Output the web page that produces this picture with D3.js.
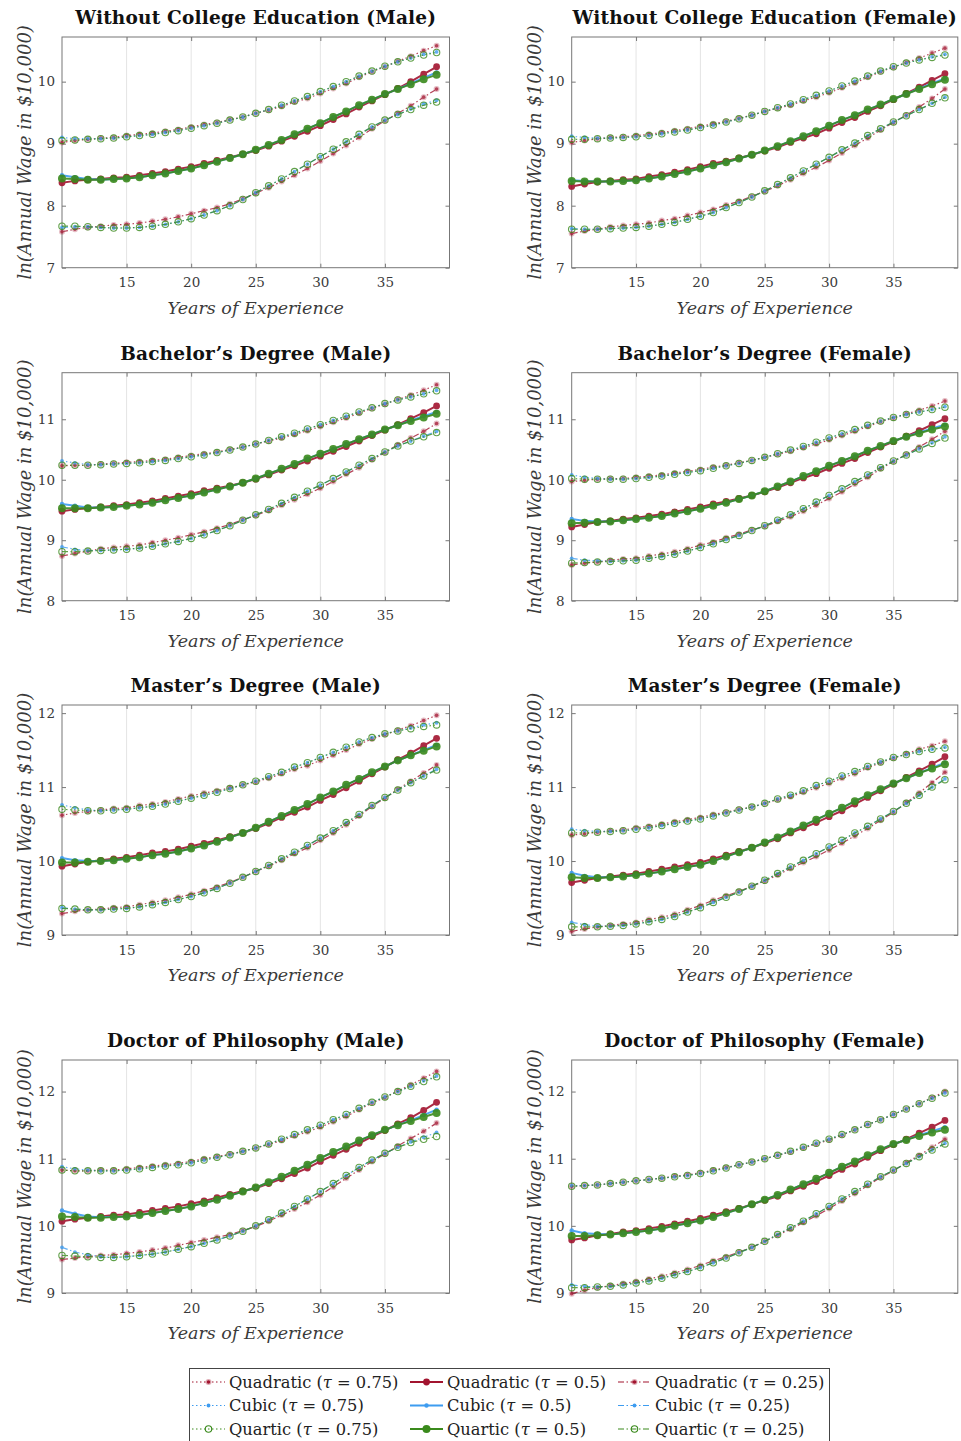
<!DOCTYPE html>
<html>
<head>
<meta charset="utf-8">
<script src="https://cdn.jsdelivr.net/npm/d3@7"></script>
<style>
  body { margin: 0; background: #fff; }
  text { font-family: "DejaVu Serif", serif; }
</style>
</head>
<body>
<svg id="chart" width="961" height="1441"></svg>
<script>
// x values (years of experience) and axis ticks
const years = [10,11,12,13,14,15,16,17,18,19,20,21,22,23,24,25,26,27,28,29,30,31,32,33,34,35,36,37,38,39];
const xTickValues = [15, 20, 25, 30, 35];
const yTickRows = [[7, 8, 9, 10], [8, 9, 10, 11], [9, 10, 11, 12], [9, 10, 11, 12]];
const yDomainRows = [[7, 10.72], [8, 11.77], [9, 12.11], [9, 12.47]];

const panelTitles = [
  "Without College Education (Male)", "Without College Education (Female)",
  "Bachelor\u2019s Degree (Male)", "Bachelor\u2019s Degree (Female)",
  "Master\u2019s Degree (Male)", "Master\u2019s Degree (Female)",
  "Doctor of Philosophy (Male)", "Doctor of Philosophy (Female)"
];

// Without college, male
const wocMaleQuad75 = [9.02,9.05,9.07,9.09,9.10,9.13,9.15,9.17,9.20,9.23,9.27,9.31,9.34,9.39,9.43,9.49,9.54,9.60,9.67,9.73,9.81,9.89,9.97,10.07,10.16,10.24,10.33,10.41,10.50,10.58];
const wocMaleCubic75 = [9.10,9.08,9.08,9.08,9.09,9.11,9.13,9.15,9.18,9.21,9.25,9.29,9.33,9.38,9.43,9.49,9.55,9.62,9.69,9.76,9.84,9.92,10.00,10.09,10.17,10.25,10.32,10.38,10.44,10.48];
const wocMaleQuart75 = [9.05,9.06,9.07,9.08,9.09,9.11,9.13,9.15,9.18,9.21,9.25,9.29,9.33,9.38,9.43,9.49,9.55,9.62,9.69,9.76,9.84,9.92,10.00,10.09,10.17,10.25,10.32,10.38,10.43,10.47];
const wocMaleQuad50 = [8.37,8.40,8.42,8.43,8.45,8.46,8.49,8.52,8.55,8.59,8.63,8.68,8.73,8.78,8.83,8.89,8.96,9.04,9.12,9.20,9.29,9.39,9.48,9.59,9.69,9.79,9.89,10.00,10.12,10.24];
const wocMaleCubic50 = [8.49,8.46,8.43,8.42,8.43,8.44,8.46,8.49,8.52,8.56,8.60,8.65,8.71,8.77,8.83,8.90,8.98,9.06,9.15,9.24,9.33,9.43,9.52,9.62,9.71,9.80,9.88,9.97,10.06,10.15];
const wocMaleQuart50 = [8.44,8.43,8.42,8.42,8.43,8.44,8.46,8.49,8.52,8.56,8.60,8.65,8.71,8.77,8.83,8.90,8.98,9.06,9.15,9.24,9.33,9.43,9.52,9.62,9.71,9.80,9.88,9.96,10.04,10.11];
const wocMaleQuad25 = [7.58,7.62,7.65,7.67,7.69,7.70,7.72,7.75,7.78,7.82,7.87,7.92,7.97,8.03,8.11,8.20,8.29,8.39,8.49,8.60,8.72,8.84,8.97,9.10,9.24,9.37,9.49,9.61,9.75,9.88];
const wocMaleCubic25 = [7.65,7.66,7.66,7.65,7.64,7.64,7.65,7.67,7.70,7.74,7.79,7.85,7.92,8.00,8.10,8.21,8.32,8.43,8.55,8.67,8.79,8.91,9.03,9.15,9.27,9.38,9.47,9.56,9.64,9.70];
const wocMaleQuart25 = [7.67,7.67,7.66,7.65,7.64,7.64,7.65,7.67,7.70,7.74,7.79,7.85,7.92,8.00,8.10,8.21,8.32,8.43,8.55,8.67,8.79,8.91,9.03,9.15,9.27,9.38,9.47,9.55,9.62,9.67];

// Without college, female
const wocFemQuad75 = [9.02,9.05,9.08,9.10,9.11,9.13,9.15,9.18,9.21,9.24,9.28,9.32,9.36,9.41,9.46,9.52,9.57,9.62,9.69,9.75,9.82,9.90,9.98,10.07,10.16,10.23,10.31,10.38,10.46,10.54];
const wocFemCubic75 = [9.12,9.10,9.09,9.09,9.10,9.11,9.13,9.16,9.19,9.22,9.26,9.30,9.35,9.40,9.46,9.52,9.58,9.64,9.71,9.78,9.85,9.93,10.01,10.09,10.17,10.24,10.30,10.35,10.40,10.44];
const wocFemQuart75 = [9.07,9.07,9.08,9.09,9.10,9.11,9.13,9.16,9.19,9.22,9.26,9.30,9.35,9.40,9.46,9.52,9.58,9.64,9.71,9.78,9.85,9.93,10.01,10.09,10.17,10.24,10.30,10.35,10.39,10.43];
const wocFemQuad50 = [8.31,8.35,8.38,8.40,8.42,8.43,8.47,8.50,8.54,8.58,8.63,8.68,8.72,8.77,8.82,8.88,8.94,9.02,9.09,9.16,9.25,9.34,9.42,9.52,9.61,9.71,9.81,9.91,10.02,10.13];
const wocFemCubic50 = [8.41,8.40,8.39,8.39,8.40,8.41,8.44,8.47,8.51,8.55,8.60,8.65,8.70,8.76,8.82,8.89,8.96,9.04,9.12,9.20,9.29,9.38,9.46,9.55,9.63,9.72,9.80,9.89,9.97,10.05];
const wocFemQuart50 = [8.40,8.39,8.39,8.39,8.40,8.41,8.44,8.47,8.51,8.55,8.60,8.65,8.70,8.76,8.82,8.89,8.96,9.04,9.12,9.20,9.29,9.38,9.46,9.55,9.63,9.72,9.80,9.88,9.96,10.03];
const wocFemQuad25 = [7.55,7.59,7.62,7.66,7.68,7.70,7.72,7.76,7.79,7.84,7.89,7.94,8.01,8.07,8.15,8.23,8.32,8.42,8.52,8.62,8.73,8.85,8.97,9.09,9.22,9.34,9.46,9.59,9.73,9.88];
const wocFemCubic25 = [7.63,7.62,7.62,7.63,7.64,7.65,7.67,7.70,7.73,7.78,7.83,7.89,7.97,8.05,8.14,8.24,8.34,8.45,8.56,8.67,8.78,8.90,9.01,9.13,9.24,9.35,9.45,9.55,9.65,9.75];
const wocFemQuart25 = [7.62,7.62,7.62,7.63,7.64,7.65,7.67,7.70,7.73,7.78,7.83,7.89,7.97,8.05,8.14,8.24,8.34,8.45,8.56,8.67,8.78,8.90,9.01,9.13,9.24,9.35,9.45,9.55,9.65,9.74];

// Bachelor's, male
const baMaleQuad75 = [10.23,10.24,10.24,10.26,10.27,10.29,10.30,10.32,10.34,10.37,10.40,10.43,10.46,10.50,10.54,10.59,10.64,10.69,10.75,10.81,10.88,10.95,11.02,11.10,11.18,11.25,11.33,11.40,11.48,11.57];
const baMaleCubic75 = [10.31,10.28,10.25,10.25,10.26,10.27,10.28,10.30,10.32,10.35,10.38,10.41,10.45,10.49,10.54,10.59,10.65,10.71,10.77,10.84,10.91,10.98,11.05,11.12,11.19,11.26,11.32,11.37,11.42,11.48];
const baMaleQuart75 = [10.24,10.24,10.24,10.25,10.26,10.27,10.28,10.30,10.32,10.35,10.38,10.41,10.45,10.49,10.54,10.59,10.65,10.71,10.77,10.84,10.91,10.98,11.05,11.12,11.19,11.26,11.32,11.37,11.42,11.47];
const baMaleQuad50 = [9.48,9.51,9.53,9.55,9.57,9.59,9.62,9.65,9.69,9.73,9.77,9.82,9.86,9.90,9.95,10.01,10.08,10.16,10.23,10.31,10.39,10.47,10.55,10.64,10.73,10.82,10.91,11.01,11.11,11.22];
const baMaleCubic50 = [9.60,9.57,9.54,9.54,9.55,9.57,9.59,9.62,9.66,9.70,9.74,9.79,9.84,9.89,9.95,10.02,10.10,10.18,10.26,10.35,10.43,10.51,10.59,10.67,10.75,10.83,10.90,10.98,11.05,11.12];
const baMaleQuart50 = [9.53,9.53,9.53,9.54,9.55,9.57,9.59,9.62,9.66,9.70,9.74,9.79,9.84,9.89,9.95,10.02,10.10,10.18,10.26,10.35,10.43,10.51,10.59,10.67,10.75,10.83,10.90,10.97,11.03,11.09];
const baMaleQuad25 = [8.74,8.78,8.82,8.86,8.88,8.90,8.92,8.96,9.00,9.04,9.09,9.14,9.20,9.26,9.34,9.41,9.49,9.58,9.67,9.76,9.86,9.97,10.09,10.20,10.33,10.45,10.58,10.69,10.80,10.93];
const baMaleCubic25 = [8.89,8.85,8.83,8.83,8.84,8.85,8.87,8.90,8.94,8.98,9.03,9.09,9.16,9.24,9.33,9.42,9.51,9.61,9.71,9.81,9.91,10.02,10.13,10.24,10.35,10.46,10.56,10.64,10.72,10.80];
const baMaleQuart25 = [8.81,8.81,8.82,8.83,8.84,8.85,8.87,8.90,8.94,8.98,9.03,9.09,9.16,9.24,9.33,9.42,9.51,9.61,9.71,9.81,9.91,10.02,10.13,10.24,10.35,10.46,10.56,10.64,10.71,10.78];

// Bachelor's, female
const baFemQuad75 = [9.97,9.99,10.01,10.02,10.02,10.04,10.06,10.08,10.11,10.14,10.17,10.21,10.24,10.28,10.32,10.37,10.42,10.47,10.53,10.59,10.66,10.73,10.80,10.88,10.96,11.02,11.09,11.15,11.22,11.30];
const baFemCubic75 = [10.08,10.04,10.02,10.01,10.01,10.02,10.04,10.06,10.09,10.12,10.15,10.19,10.23,10.27,10.32,10.37,10.43,10.49,10.55,10.62,10.69,10.76,10.83,10.90,10.97,11.03,11.08,11.12,11.16,11.21];
const baFemQuart75 = [10.02,10.01,10.01,10.01,10.01,10.02,10.04,10.06,10.09,10.12,10.15,10.19,10.23,10.27,10.32,10.37,10.43,10.49,10.55,10.62,10.69,10.76,10.83,10.90,10.97,11.03,11.08,11.12,11.16,11.20];
const baFemQuad50 = [9.22,9.26,9.30,9.32,9.35,9.37,9.40,9.43,9.47,9.51,9.55,9.60,9.64,9.69,9.74,9.80,9.87,9.95,10.03,10.10,10.19,10.27,10.35,10.45,10.54,10.63,10.72,10.81,10.91,11.01];
const baFemCubic50 = [9.35,9.32,9.31,9.31,9.33,9.35,9.37,9.40,9.44,9.48,9.52,9.57,9.62,9.68,9.74,9.81,9.89,9.97,10.06,10.14,10.23,10.31,10.39,10.48,10.56,10.64,10.71,10.78,10.85,10.91];
const baFemQuart50 = [9.28,9.29,9.30,9.31,9.33,9.35,9.37,9.40,9.44,9.48,9.52,9.57,9.62,9.68,9.74,9.81,9.89,9.97,10.06,10.14,10.23,10.31,10.39,10.48,10.56,10.64,10.71,10.77,10.83,10.88];
const baFemQuad25 = [8.59,8.62,8.64,8.67,8.69,8.70,8.74,8.77,8.81,8.86,8.92,8.97,9.04,9.10,9.17,9.23,9.31,9.39,9.48,9.58,9.69,9.80,9.93,10.04,10.18,10.30,10.42,10.54,10.67,10.80];
const baFemCubic25 = [8.70,8.67,8.66,8.65,8.66,8.67,8.70,8.73,8.77,8.82,8.88,8.94,9.01,9.08,9.16,9.24,9.33,9.42,9.52,9.63,9.74,9.85,9.97,10.08,10.20,10.31,10.41,10.51,10.61,10.71];
const baFemQuart25 = [8.62,8.63,8.64,8.65,8.66,8.67,8.70,8.73,8.77,8.82,8.88,8.94,9.01,9.08,9.16,9.24,9.33,9.42,9.52,9.63,9.74,9.85,9.97,10.08,10.20,10.31,10.41,10.51,10.60,10.69];

// Master's, male
const maMaleQuad75 = [10.62,10.65,10.67,10.69,10.71,10.72,10.75,10.77,10.80,10.84,10.88,10.92,10.95,10.99,11.03,11.07,11.12,11.18,11.24,11.29,11.36,11.43,11.50,11.58,11.65,11.71,11.77,11.83,11.90,11.97];
const maMaleCubic75 = [10.76,10.72,10.69,10.68,10.69,10.70,10.72,10.74,10.77,10.81,10.85,10.89,10.93,10.98,11.03,11.08,11.14,11.20,11.27,11.33,11.40,11.47,11.54,11.61,11.67,11.72,11.76,11.80,11.84,11.87];
const maMaleQuart75 = [10.70,10.69,10.68,10.68,10.69,10.70,10.72,10.74,10.77,10.81,10.85,10.89,10.93,10.98,11.03,11.08,11.14,11.20,11.27,11.33,11.40,11.47,11.54,11.61,11.67,11.72,11.76,11.79,11.82,11.84];
const maMaleQuad50 = [9.93,9.96,9.99,10.01,10.03,10.05,10.08,10.11,10.13,10.16,10.20,10.24,10.28,10.33,10.38,10.44,10.51,10.59,10.66,10.73,10.82,10.90,10.99,11.08,11.18,11.27,11.37,11.46,11.56,11.66];
const maMaleCubic50 = [10.04,10.01,10.00,10.00,10.01,10.03,10.05,10.08,10.10,10.13,10.17,10.21,10.26,10.32,10.38,10.45,10.53,10.61,10.69,10.77,10.86,10.94,11.03,11.11,11.20,11.28,11.36,11.43,11.50,11.57];
const maMaleQuart50 = [9.98,9.98,9.99,10.00,10.01,10.03,10.05,10.08,10.10,10.13,10.17,10.21,10.26,10.32,10.38,10.45,10.53,10.61,10.69,10.77,10.86,10.94,11.03,11.11,11.20,11.28,11.36,11.43,11.49,11.55];
const maMaleQuad25 = [9.29,9.32,9.34,9.35,9.37,9.38,9.41,9.44,9.47,9.51,9.55,9.60,9.65,9.71,9.78,9.86,9.93,10.01,10.10,10.18,10.28,10.38,10.49,10.61,10.74,10.85,10.97,11.08,11.19,11.30];
const maMaleCubic25 = [9.37,9.35,9.34,9.34,9.35,9.36,9.38,9.41,9.44,9.48,9.52,9.57,9.63,9.70,9.78,9.86,9.94,10.03,10.12,10.21,10.31,10.41,10.52,10.63,10.75,10.86,10.96,11.06,11.15,11.24];
const maMaleQuart25 = [9.36,9.35,9.34,9.34,9.35,9.36,9.38,9.41,9.44,9.48,9.52,9.57,9.63,9.70,9.78,9.86,9.94,10.03,10.12,10.21,10.31,10.41,10.52,10.63,10.75,10.86,10.96,11.06,11.15,11.23];

// Master's, female
const maFemQuad75 = [10.35,10.37,10.39,10.41,10.42,10.45,10.47,10.50,10.53,10.56,10.59,10.63,10.66,10.70,10.73,10.78,10.83,10.87,10.93,10.99,11.05,11.12,11.18,11.26,11.33,11.39,11.45,11.51,11.56,11.62];
const maFemCubic75 = [10.43,10.41,10.40,10.40,10.41,10.43,10.45,10.48,10.51,10.54,10.57,10.61,10.65,10.69,10.73,10.78,10.84,10.89,10.95,11.02,11.08,11.15,11.21,11.28,11.34,11.40,11.44,11.48,11.51,11.54];
const maFemQuart75 = [10.38,10.38,10.39,10.40,10.41,10.43,10.45,10.48,10.51,10.54,10.57,10.61,10.65,10.69,10.73,10.78,10.84,10.89,10.95,11.02,11.08,11.15,11.21,11.28,11.34,11.40,11.44,11.48,11.51,11.53];
const maFemQuad50 = [9.71,9.74,9.77,9.79,9.81,9.83,9.86,9.89,9.92,9.95,9.98,10.03,10.08,10.13,10.18,10.24,10.30,10.38,10.45,10.52,10.60,10.68,10.77,10.86,10.95,11.04,11.13,11.22,11.31,11.41];
const maFemCubic50 = [9.84,9.80,9.78,9.78,9.79,9.81,9.83,9.86,9.89,9.92,9.95,10.00,10.06,10.12,10.18,10.25,10.32,10.40,10.48,10.56,10.64,10.72,10.81,10.89,10.97,11.05,11.12,11.19,11.26,11.33];
const maFemQuart50 = [9.78,9.77,9.77,9.78,9.79,9.81,9.83,9.86,9.89,9.92,9.95,10.00,10.06,10.12,10.18,10.25,10.32,10.40,10.48,10.56,10.64,10.72,10.81,10.89,10.97,11.05,11.12,11.19,11.25,11.31];
const maFemQuad25 = [9.05,9.08,9.11,9.13,9.15,9.17,9.21,9.24,9.28,9.34,9.40,9.47,9.53,9.59,9.66,9.73,9.81,9.90,9.98,10.06,10.15,10.24,10.34,10.44,10.55,10.66,10.79,10.92,11.06,11.20];
const maFemCubic25 = [9.17,9.14,9.12,9.12,9.13,9.15,9.18,9.21,9.25,9.31,9.37,9.44,9.51,9.58,9.66,9.74,9.83,9.92,10.01,10.10,10.19,10.28,10.38,10.47,10.57,10.67,10.78,10.89,11.00,11.11];
const maFemQuart25 = [9.11,9.11,9.11,9.12,9.13,9.15,9.18,9.21,9.25,9.31,9.37,9.44,9.51,9.58,9.66,9.74,9.83,9.92,10.01,10.10,10.19,10.28,10.38,10.47,10.57,10.67,10.78,10.89,11.00,11.10];

// Doctor of philosophy, male
const phdMaleQuad75 = [10.83,10.82,10.82,10.83,10.83,10.85,10.87,10.89,10.91,10.93,10.96,11.00,11.03,11.07,11.11,11.16,11.21,11.27,11.34,11.40,11.47,11.55,11.63,11.73,11.83,11.91,12.01,12.10,12.20,12.30];
const phdMaleCubic75 = [10.88,10.85,10.83,10.82,10.82,10.83,10.85,10.87,10.89,10.91,10.94,10.98,11.02,11.06,11.11,11.16,11.22,11.29,11.36,11.43,11.50,11.58,11.66,11.75,11.84,11.92,12.00,12.08,12.16,12.23];
const phdMaleQuart75 = [10.83,10.82,10.82,10.82,10.82,10.83,10.85,10.87,10.89,10.91,10.94,10.98,11.02,11.06,11.11,11.16,11.22,11.29,11.36,11.43,11.50,11.58,11.66,11.75,11.84,11.92,12.00,12.08,12.15,12.22];
const phdMaleQuad50 = [10.07,10.10,10.12,10.14,10.16,10.17,10.20,10.23,10.26,10.29,10.33,10.37,10.42,10.47,10.52,10.56,10.63,10.70,10.78,10.86,10.96,11.05,11.14,11.23,11.33,11.42,11.52,11.61,11.72,11.84];
const phdMaleCubic50 = [10.23,10.18,10.14,10.13,10.13,10.14,10.16,10.19,10.22,10.25,10.29,10.34,10.39,10.45,10.51,10.57,10.65,10.73,10.82,10.91,11.01,11.10,11.18,11.27,11.35,11.43,11.50,11.57,11.65,11.73];
const phdMaleQuart50 = [10.14,10.13,10.12,10.12,10.13,10.14,10.16,10.19,10.22,10.25,10.29,10.34,10.39,10.45,10.51,10.57,10.65,10.73,10.82,10.91,11.01,11.10,11.18,11.27,11.35,11.43,11.50,11.56,11.62,11.68];
const phdMaleQuad25 = [9.50,9.52,9.54,9.56,9.57,9.59,9.61,9.64,9.67,9.71,9.75,9.79,9.83,9.87,9.93,9.99,10.07,10.16,10.25,10.35,10.46,10.58,10.71,10.83,10.96,11.07,11.19,11.30,11.41,11.53];
const phdMaleCubic25 = [9.68,9.61,9.57,9.54,9.53,9.54,9.56,9.58,9.61,9.65,9.69,9.74,9.79,9.85,9.92,10.00,10.09,10.19,10.29,10.40,10.51,10.63,10.75,10.87,10.98,11.08,11.17,11.25,11.32,11.39];
const phdMaleQuart25 = [9.56,9.55,9.54,9.53,9.53,9.54,9.56,9.58,9.61,9.65,9.69,9.74,9.79,9.85,9.92,10.00,10.09,10.19,10.29,10.40,10.51,10.63,10.75,10.87,10.98,11.08,11.17,11.24,11.29,11.33];

// Doctor of philosophy, female
const phdFemQuad75 = [10.59,10.60,10.61,10.63,10.65,10.67,10.69,10.71,10.74,10.76,10.79,10.83,10.87,10.91,10.95,11.00,11.05,11.10,11.16,11.22,11.28,11.35,11.43,11.51,11.58,11.66,11.74,11.82,11.91,12.00];
const phdFemCubic75 = [10.60,10.60,10.61,10.63,10.65,10.67,10.69,10.71,10.73,10.75,10.78,10.82,10.86,10.91,10.95,11.00,11.05,11.11,11.17,11.23,11.29,11.36,11.43,11.51,11.58,11.66,11.74,11.82,11.90,11.98];
const phdFemQuart75 = [10.59,10.60,10.61,10.63,10.65,10.67,10.69,10.71,10.73,10.75,10.78,10.82,10.86,10.91,10.95,11.00,11.05,11.11,11.17,11.23,11.29,11.36,11.43,11.51,11.58,11.66,11.74,11.82,11.90,11.98];
const phdFemQuad50 = [9.79,9.82,9.86,9.88,9.91,9.93,9.96,9.99,10.03,10.07,10.11,10.16,10.21,10.26,10.32,10.38,10.44,10.52,10.59,10.66,10.75,10.84,10.92,11.02,11.12,11.21,11.29,11.38,11.47,11.57];
const phdFemCubic50 = [9.93,9.89,9.88,9.87,9.89,9.91,9.93,9.96,10.00,10.04,10.08,10.13,10.19,10.25,10.32,10.39,10.46,10.54,10.62,10.70,10.79,10.88,10.96,11.05,11.14,11.22,11.28,11.35,11.41,11.47];
const phdFemQuart50 = [9.85,9.85,9.86,9.87,9.89,9.91,9.93,9.96,10.00,10.04,10.08,10.13,10.19,10.25,10.32,10.39,10.46,10.54,10.62,10.70,10.79,10.88,10.96,11.05,11.14,11.22,11.28,11.34,11.39,11.43];
const phdFemQuad25 = [8.99,9.04,9.08,9.11,9.14,9.17,9.21,9.25,9.30,9.35,9.41,9.48,9.54,9.61,9.68,9.77,9.86,9.95,10.05,10.15,10.26,10.37,10.48,10.60,10.72,10.82,10.94,11.05,11.17,11.29];
const phdFemCubic25 = [9.12,9.10,9.09,9.10,9.12,9.15,9.18,9.22,9.27,9.32,9.38,9.45,9.52,9.60,9.68,9.77,9.87,9.97,10.07,10.18,10.29,10.40,10.51,10.62,10.73,10.83,10.93,11.03,11.13,11.23];
const phdFemQuart25 = [9.08,9.08,9.09,9.10,9.12,9.15,9.18,9.22,9.27,9.32,9.38,9.45,9.52,9.60,9.68,9.77,9.87,9.97,10.07,10.18,10.29,10.40,10.51,10.62,10.73,10.83,10.93,11.03,11.13,11.22];

// series per panel: [model][tau] with tau order 0.75, 0.5, 0.25
const panelSeries = [
  [[wocMaleQuad75, wocMaleQuad50, wocMaleQuad25], [wocMaleCubic75, wocMaleCubic50, wocMaleCubic25], [wocMaleQuart75, wocMaleQuart50, wocMaleQuart25]],
  [[wocFemQuad75, wocFemQuad50, wocFemQuad25], [wocFemCubic75, wocFemCubic50, wocFemCubic25], [wocFemQuart75, wocFemQuart50, wocFemQuart25]],
  [[baMaleQuad75, baMaleQuad50, baMaleQuad25], [baMaleCubic75, baMaleCubic50, baMaleCubic25], [baMaleQuart75, baMaleQuart50, baMaleQuart25]],
  [[baFemQuad75, baFemQuad50, baFemQuad25], [baFemCubic75, baFemCubic50, baFemCubic25], [baFemQuart75, baFemQuart50, baFemQuart25]],
  [[maMaleQuad75, maMaleQuad50, maMaleQuad25], [maMaleCubic75, maMaleCubic50, maMaleCubic25], [maMaleQuart75, maMaleQuart50, maMaleQuart25]],
  [[maFemQuad75, maFemQuad50, maFemQuad25], [maFemCubic75, maFemCubic50, maFemCubic25], [maFemQuart75, maFemQuart50, maFemQuart25]],
  [[phdMaleQuad75, phdMaleQuad50, phdMaleQuad25], [phdMaleCubic75, phdMaleCubic50, phdMaleCubic25], [phdMaleQuart75, phdMaleQuart50, phdMaleQuart25]],
  [[phdFemQuad75, phdFemQuad50, phdFemQuad25], [phdFemCubic75, phdFemCubic50, phdFemCubic25], [phdFemQuart75, phdFemQuart50, phdFemQuart25]]
];

const modelNames = ["Quadratic", "Cubic", "Quartic"];
const tauLabels = ["0.75", "0.5", "0.25"];

// styling
const modelColors = ["#a2142f", "#3d9cf0", "#3a8a1c"];
const tauDash = ["1.5,2.5", null, "6,2.5,1.5,2.5"];
const tauWidth = [1.2, 2, 1.2];

const cols = [[62, 449.5], [571.7, 957.8]];
const rows = [[37, 267.7], [372.7, 600.7], [705, 935], [1060, 1293]];

const svg = d3.select("#chart");

function drawMarker(sel, m, t, color) {
  // m: model index, t: tau index
  if (m === 2 && t !== 1) {
    sel.append("circle").attr("r", 3.2).attr("fill", "none")
      .attr("stroke", color).attr("stroke-width", 1.1);
  } else if (m === 2) {
    sel.append("circle").attr("r", 4).attr("fill", color);
  } else if (m === 0 && t === 1) {
    sel.append("circle").attr("r", 3.4).attr("fill", color);
  } else if (m === 0) {
    sel.append("circle").attr("r", 3).attr("fill", color).attr("opacity", 0.35);
    sel.append("circle").attr("r", 1.8).attr("fill", color);
  } else {
    sel.append("circle").attr("r", t === 1 ? 2.2 : 1.9).attr("fill", color);
  }
}

panelTitles.forEach((title, i) => {
  const c = i % 2, r = Math.floor(i / 2);
  const x = d3.scaleLinear().domain([10, 40]).range(cols[c]);
  const y = d3.scaleLinear().domain(yDomainRows[r]).range([rows[r][1], rows[r][0]]);
  const g = svg.append("g");
  const [x0, x1] = cols[c], [y0, y1] = rows[r];

  // vertical grid
  g.append("g").selectAll("line").data(xTickValues).join("line")
    .attr("x1", d => x(d)).attr("x2", d => x(d))
    .attr("y1", y0).attr("y2", y1)
    .attr("stroke", "#e4e4e4").attr("stroke-width", 1);

  // axes
  const axStyle = a => {
    a.select(".domain").remove();
    a.selectAll(".tick line").attr("stroke", "#777");
    a.selectAll(".tick text").attr("fill", "#3a3a3a")
      .style("font-family", "DejaVu Serif").style("font-size", "13.5px");
  };
  g.append("g").attr("transform", `translate(0,${y1})`)
    .call(d3.axisBottom(x).tickValues(xTickValues).tickSize(-4).tickPadding(10))
    .call(axStyle);
  g.append("g").attr("transform", `translate(0,${y0})`)
    .call(d3.axisTop(x).tickValues(xTickValues).tickSize(-4).tickFormat(""))
    .call(axStyle);
  g.append("g").attr("transform", `translate(${x0},0)`)
    .call(d3.axisLeft(y).tickValues(yTickRows[r]).tickFormat(d3.format("d")).tickSize(-4).tickPadding(7))
    .call(axStyle);
  g.append("g").attr("transform", `translate(${x1},0)`)
    .call(d3.axisRight(y).tickValues(yTickRows[r]).tickSize(-4).tickFormat(""))
    .call(axStyle);

  g.append("rect").attr("x", x0).attr("y", y0)
    .attr("width", x1 - x0).attr("height", y1 - y0)
    .attr("fill", "none").attr("stroke", "#777").attr("stroke-width", 1);

  // title and labels
  g.append("text").attr("x", (x0 + x1) / 2).attr("y", y0 - 13)
    .attr("text-anchor", "middle").attr("font-weight", "bold")
    .attr("font-size", 18.5).attr("letter-spacing", 0.2)
    .attr("fill", "#111").text(title);
  g.append("text").attr("x", (x0 + x1) / 2).attr("y", y1 + 46)
    .attr("text-anchor", "middle").attr("font-style", "italic")
    .attr("font-size", 17.5).attr("fill", "#3a3a3a").text("Years of Experience");
  g.append("text")
    .attr("transform", `translate(${x0 - 31},${(y0 + y1) / 2}) rotate(-90)`)
    .attr("text-anchor", "middle").attr("font-style", "italic")
    .attr("font-size", 18).attr("fill", "#3a3a3a").text("ln(Annual Wage in $10,000)");

  // series
  const line = d3.line().x((d, k) => x(years[k])).y(d => y(d));
  panelSeries[i].forEach((bundle, m) => {
    bundle.forEach((vals, t) => {
      const color = modelColors[m];
      const sg = g.append("g").attr("opacity", t === 1 ? 0.9 : 0.8);
      sg.append("path").datum(vals).attr("d", line)
        .attr("fill", "none").attr("stroke", color)
        .attr("stroke-width", tauWidth[t])
        .attr("stroke-dasharray", tauDash[t]);
      sg.selectAll("g.mk").data(vals).join("g").attr("class", "mk")
        .attr("transform", (d, k) => `translate(${x(years[k])},${y(d)})`)
        .each(function () { drawMarker(d3.select(this), m, t, color); });
    });
  });
});

// legend
const lg = svg.append("g");
lg.append("rect").attr("x", 189.5).attr("y", 1368.5).attr("width", 640).attr("height", 80)
  .attr("fill", "#fff").attr("stroke", "#444").attr("stroke-width", 1);
const legCols = [192, 410, 618];
const legRows = [1382, 1405.5, 1429];
tauLabels.forEach((tau, t) => {
  modelNames.forEach((name, m) => {
    const lx = legCols[t], ly = legRows[m], color = modelColors[m];
    const eg = lg.append("g");
    eg.append("line").attr("x1", lx).attr("x2", lx + 33).attr("y1", ly).attr("y2", ly)
      .attr("stroke", color).attr("stroke-width", tauWidth[t])
      .attr("stroke-dasharray", tauDash[t]);
    const mk = eg.append("g").attr("transform", `translate(${lx + 16.5},${ly})`);
    drawMarker(mk, m, t, color);
    const tx = eg.append("text").attr("x", lx + 37).attr("y", ly + 5.5)
      .attr("font-size", 16.3).attr("fill", "#222");
    tx.append("tspan").text(name + " (");
    tx.append("tspan").attr("font-style", "italic").text("\u03c4");
    tx.append("tspan").text(" = " + tau + ")");
  });
});
</script>
</body>
</html>
